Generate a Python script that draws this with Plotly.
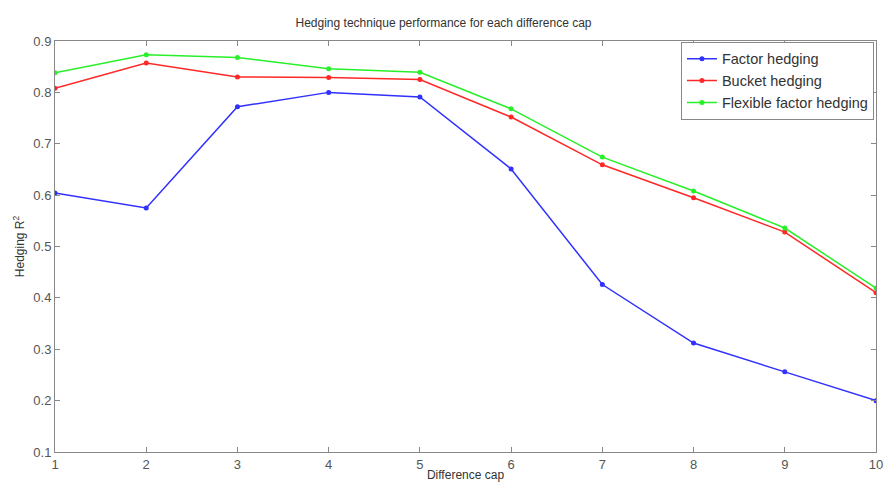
import plotly.graph_objects as go

caps = [1, 2, 3, 4, 5, 6, 7, 8, 9, 10]
factor = [0.604, 0.575, 0.772, 0.800, 0.791, 0.651, 0.426, 0.312, 0.256, 0.200]
bucket = [0.808, 0.857, 0.830, 0.829, 0.825, 0.752, 0.659, 0.595, 0.528, 0.410]
flexible = [0.838, 0.873, 0.868, 0.846, 0.839, 0.768, 0.674, 0.608, 0.536, 0.419]
y_ticks = [0.1, 0.2, 0.3, 0.4, 0.5, 0.6, 0.7, 0.8, 0.9]

series = [
    ("Factor hedging", factor, "#3030ff"),
    ("Bucket hedging", bucket, "#ff2828"),
    ("Flexible factor hedging", flexible, "#28f028"),
]

fig = go.Figure()
for name, vals, col in series:
    fig.add_trace(go.Scatter(
        x=caps, y=vals, name=name, mode="lines+markers",
        line=dict(color=col, width=1.5),
        marker=dict(color=col, size=5, symbol="circle"),
    ))

font = "Liberation Sans, Arial, sans-serif"
axis_common = dict(
    showgrid=False, zeroline=False, showline=True, mirror="ticks",
    linecolor="#888888", linewidth=1, ticks="inside", ticklen=5,
    tickcolor="#888888", automargin=False,
    tickfont=dict(family=font, size=13, color="#555555"),
)

fig.update_layout(
    width=887, height=486,
    margin=dict(l=55, r=11, t=41, b=34),
    paper_bgcolor="white", plot_bgcolor="white",
    title=dict(text="Hedging technique performance for each difference cap",
               x=0.5, xanchor="center", y=1 - 19 / 486, yanchor="top",
               font=dict(family=font, size=12, color="#333333")),
    xaxis=dict(range=[1, 10], tickvals=caps, ticktext=[str(c) for c in caps],
               title=dict(text="Difference cap", standoff=0,
                          font=dict(family=font, size=12, color="#333333")),
               **axis_common),
    yaxis=dict(range=[0.1, 0.9], tickvals=y_ticks,
               ticktext=[f"{v:.1f}" for v in y_ticks],
               title=dict(text="Hedging R<sup>2</sup>", standoff=6,
                          font=dict(family=font, size=12, color="#333333")),
               **axis_common),
    legend=dict(x=0.9975, xanchor="right", y=0.998, yanchor="top",
                bgcolor="white", bordercolor="#888888", borderwidth=1,
                font=dict(family=font, size=14.5, color="#333333"),
                tracegroupgap=0, itemwidth=30),
    showlegend=True,
)

fig.write_html(
    "out.html",
    config={"displayModeBar": False},
    post_script="document.body.style.margin='0';document.body.style.overflow='hidden';",
)
